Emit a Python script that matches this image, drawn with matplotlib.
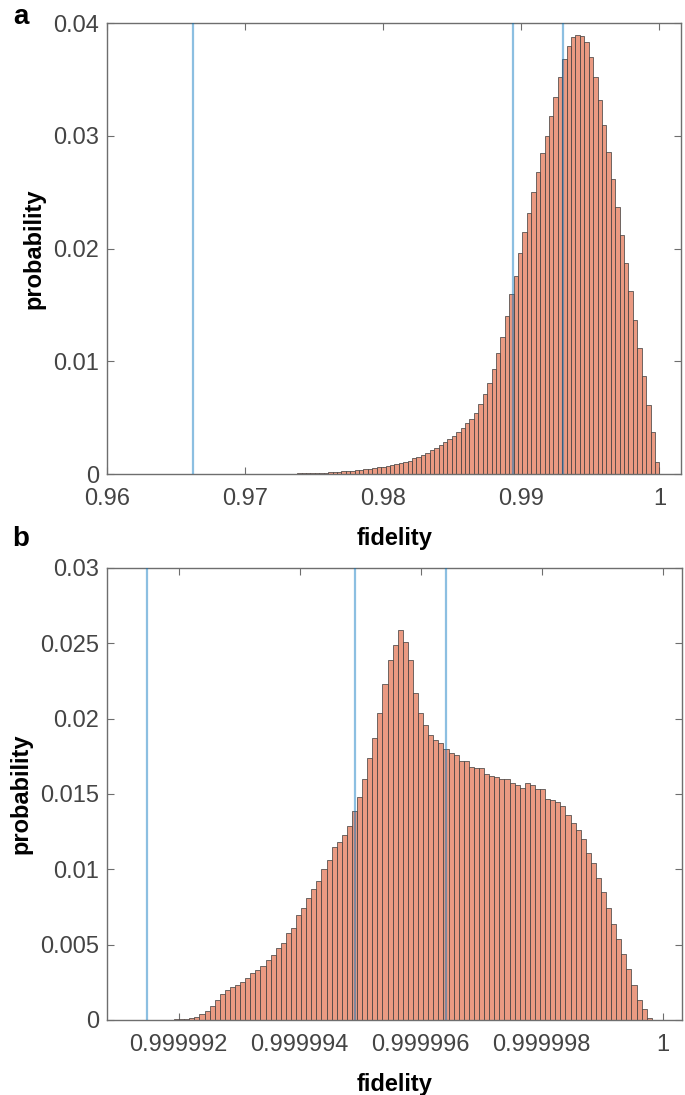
import numpy as np
import matplotlib.pyplot as plt

plt.rcParams['font.family'] = ['Liberation Sans', 'DejaVu Sans']

# panel a: 100 bins of width 0.00032 starting at 0.968
a_start = 0.968
a_width = 0.00032
a_prob = [0, 0, 0.00001, 0.00001, 0.00001, 0.00001, 0.00001, 0.00001, 0.00001, 0.00001,
          0.00001, 0.00002, 0.00002, 0.00002, 0.00003, 0.00003, 0.00004, 0.00004, 0.00005, 0.00006,
          0.00007, 0.00008, 0.0001, 0.00011, 0.00013, 0.00015, 0.00017, 0.0002, 0.00023, 0.00026,
          0.0003, 0.00033, 0.00037, 0.00042, 0.00047, 0.00053, 0.0006, 0.00065, 0.0007, 0.0008,
          0.0009, 0.001, 0.0011, 0.0012, 0.0014, 0.0015, 0.0017, 0.0019, 0.0021, 0.0023,
          0.0026, 0.0028, 0.0031, 0.0034, 0.0037, 0.0041, 0.0045, 0.0049, 0.0054, 0.0062,
          0.0071, 0.0081, 0.0093, 0.0107, 0.0122, 0.014, 0.016, 0.0176, 0.0196, 0.0215,
          0.0232, 0.025, 0.0268, 0.0285, 0.03, 0.0318, 0.0335, 0.0352, 0.0368, 0.038,
          0.0388, 0.039, 0.0389, 0.0383, 0.037, 0.0352, 0.0332, 0.031, 0.0286, 0.0262,
          0.0237, 0.0212, 0.0187, 0.0162, 0.0137, 0.0112, 0.0087, 0.0061, 0.0037, 0.0011]
a_lines = [0.96624, 0.98937, 0.9930]
a_xticks = [0.96, 0.97, 0.98, 0.99, 1.0]
a_xticklabels = ['0.96', '0.97', '0.98', '0.99', '1']
a_yticks = [0, 0.01, 0.02, 0.03, 0.04]
a_yticklabels = ['0', '0.01', '0.02', '0.03', '0.04']

# panel b: 100 bins of width 8.4e-8 starting at 0.99999142
b_start = 0.99999142
b_width = 8.4e-8
b_prob = [0, 0, 0, 0, 0.00002, 0.00003, 0.00004, 0.00006, 0.00008, 0.0001,
          0.0002, 0.0004, 0.0006, 0.0009, 0.0013, 0.0017, 0.002, 0.0022, 0.0023, 0.0025,
          0.0028, 0.0031, 0.0033, 0.0036, 0.004, 0.0043, 0.0048, 0.0051, 0.0058, 0.0061,
          0.007, 0.0074, 0.0081, 0.0087, 0.0092, 0.01, 0.0106, 0.0115, 0.0118, 0.0123,
          0.0129, 0.0139, 0.0148, 0.016, 0.0174, 0.0187, 0.0204, 0.0223, 0.0239, 0.0249,
          0.0259, 0.0251, 0.0239, 0.0217, 0.0204, 0.0196, 0.0189, 0.0186, 0.0184, 0.018,
          0.0177, 0.0176, 0.0172, 0.0172, 0.0168, 0.0167, 0.0167, 0.0163, 0.0162, 0.0161,
          0.016, 0.016, 0.0157, 0.0156, 0.0154, 0.0157, 0.0156, 0.0153, 0.0153, 0.0147,
          0.0146, 0.0145, 0.0142, 0.0136, 0.0131, 0.0126, 0.012, 0.0111, 0.0104, 0.0094,
          0.0085, 0.0074, 0.0064, 0.0054, 0.0044, 0.0034, 0.0023, 0.0013, 0.0007, 0.0001]
b_lines = [0.99999148, 0.99999491, 0.99999642]
b_xticks = [0.999992, 0.999994, 0.999996, 0.999998, 1.0]
b_xticklabels = ['0.999992', '0.999994', '0.999996', '0.999998', '1']
b_yticks = [0, 0.005, 0.01, 0.015, 0.02, 0.025, 0.03]
b_yticklabels = ['0', '0.005', '0.01', '0.015', '0.02', '0.025', '0.03']

bar_color = '#EA9A82'
line_color = '#0072BD'
axis_color = '#6e6e6e'
fs = 17


def draw(ax, start, width, prob, lines, xlim, ylim, xt, xtl, yt, ytl, ylab_x):
    edges = start + width * np.arange(len(prob))
    ax.bar(edges, prob, width=width, align='edge', color=bar_color,
           edgecolor='#3a3a3a', linewidth=0.5, zorder=2)
    for v in lines:
        ax.axvline(v, color=line_color, alpha=0.45, linewidth=1.6, zorder=3)
    ax.set_xlim(*xlim)
    ax.set_ylim(*ylim)
    ax.set_xticks(xt)
    ax.set_xticklabels(xtl)
    ax.set_yticks(yt)
    ax.set_yticklabels(ytl)
    ax.tick_params(direction='in', top=True, right=True, length=5, width=0.8,
                   colors=axis_color, labelsize=fs, labelcolor='#444444')
    ax.tick_params(axis='x', pad=10)
    ax.tick_params(axis='y', pad=6)
    for s in ax.spines.values():
        s.set_color(axis_color)
        s.set_linewidth(1.0)
    ax.set_xlabel('fidelity', fontsize=fs, fontweight='bold', labelpad=12)
    ax.set_ylabel('probability', fontsize=fs, fontweight='bold')
    ax.yaxis.set_label_coords(ylab_x, 0.5)


fig = plt.figure(figsize=(6.85, 10.95), dpi=100)
ax1 = fig.add_axes([0.1566, 0.5671, 0.8376, 0.4116])
ax2 = fig.add_axes([0.1566, 0.0685, 0.8386, 0.4128])

draw(ax1, a_start, a_width, a_prob, a_lines, (0.96, 1.00157), (0, 0.04),
     a_xticks, a_xticklabels, a_yticks, a_yticklabels, -0.107)
draw(ax2, b_start, b_width, b_prob, b_lines, (0.99999082, 1.000000314), (0, 0.03),
     b_xticks, b_xticklabels, b_yticks, b_yticklabels, -0.13)

fig.text(0.03, 0.996, 'a', fontsize=20, fontweight='bold', ha='center', va='top')
fig.text(0.03, 0.520, 'b', fontsize=20, fontweight='bold', ha='center', va='top')

fig.savefig('out.png', dpi=100)
